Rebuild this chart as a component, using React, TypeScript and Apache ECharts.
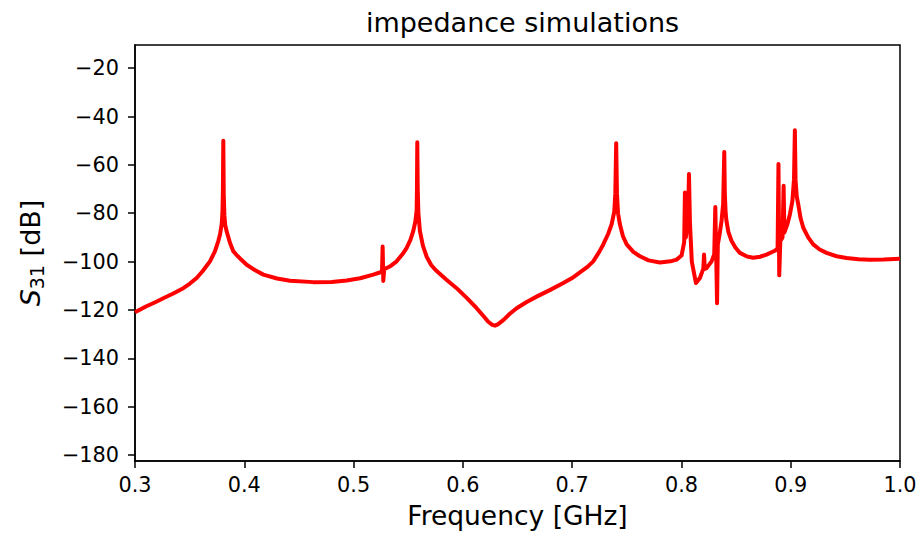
import React, { useEffect, useRef } from "react";
import * as echarts from "echarts";

// Frequency in GHz
const freq: number[] = [
  0.300, 0.310, 0.320, 0.3259, 0.335, 0.3442, 0.350, 0.3564, 0.362, 0.3686, 0.3732, 0.3762, 0.3778, 0.3793, 0.3800, 0.3804, 0.3808, 0.3812, 0.3818, 0.3826,
  0.3838, 0.3869, 0.3899, 0.3930, 0.3961, 0.4022, 0.4100, 0.4174, 0.4300, 0.4418, 0.4631, 0.4800, 0.4937, 0.5060, 0.5180, 0.5260,
  0.5266, 0.5272, 0.5280, 0.5340, 0.5394, 0.5450, 0.5486, 0.5520, 0.5546, 0.5565, 0.5577, 0.5580, 0.5583, 0.5587, 0.5593, 0.5607,
  0.5635, 0.5669, 0.5710, 0.5750, 0.5850, 0.5943, 0.6040, 0.6126, 0.6190, 0.6232, 0.6270, 0.6294, 0.6320, 0.6370, 0.6430, 0.6492,
  0.6580, 0.6675, 0.6800, 0.6919, 0.7000, 0.7071, 0.7140, 0.7193, 0.7245, 0.7285, 0.7330, 0.7361, 0.7385, 0.7395, 0.7403, 0.7410,
  0.7420, 0.7437, 0.7465, 0.7499, 0.7560, 0.7620, 0.7700, 0.7803, 0.7900, 0.7956, 0.8001, 0.8025, 0.8032, 0.8040, 0.8060, 0.8069,
  0.8078, 0.8095, 0.8133, 0.8169, 0.8200, 0.8207, 0.8214, 0.8230, 0.8276, 0.8300, 0.8310, 0.8318, 0.8326, 0.8333, 0.8350, 0.8367,
  0.8382, 0.8392, 0.8397, 0.8405, 0.8412, 0.8430, 0.8459, 0.8495, 0.8535, 0.8600, 0.8657, 0.8720, 0.8779, 0.8860, 0.8880, 0.8888,
  0.8895, 0.8905, 0.8925, 0.8935, 0.8942, 0.8970, 0.8993, 0.9015, 0.9030, 0.9038, 0.9044, 0.9055, 0.9069, 0.9090, 0.9115, 0.9160,
  0.9206, 0.9265, 0.9328, 0.9420, 0.9511, 0.9620, 0.9725, 0.9850, 1.0000,
];

// S31 in dB
const s31: number[] = [
  -121.0, -118.6, -116.5, -115.2, -113.2, -111.0, -109.2, -106.8, -103.9, -99.9, -95.7, -91.5, -88.8, -84.6, -80.0, -72.0, -50.0, -72.0, -81.0, -85.0,
  -87.4, -92.2, -95.7, -97.3, -98.7, -101.3, -103.6, -105.4, -107.0, -107.9, -108.5, -108.4, -107.8, -106.9, -105.4, -104.2,
  -93.8, -108.0, -103.2, -101.8, -99.9, -96.8, -94.3, -91.0, -87.4, -83.5, -79.0, -70.0, -50.6, -70.0, -80.0, -87.4,
  -93.5, -98.0, -101.4, -103.5, -107.5, -111.0, -115.2, -119.3, -122.6, -124.9, -126.2, -126.5, -126.0, -124.2, -121.6, -119.3,
  -116.8, -114.5, -111.7, -108.9, -106.8, -104.5, -102.2, -99.9, -96.2, -92.9, -88.5, -84.6, -79.5, -72.0, -51.0, -72.0,
  -80.0, -84.6, -89.5, -92.9, -96.0, -97.8, -99.5, -100.4, -99.9, -99.2, -97.5, -92.0, -71.4, -90.0, -84.0, -63.8,
  -84.0, -100.0, -108.9, -106.8, -103.0, -97.1, -103.0, -102.7, -99.9, -97.0, -77.4, -97.0, -117.2, -93.0, -88.5, -83.2,
  -76.0, -54.7, -72.0, -80.0, -83.2, -87.8, -91.5, -94.3, -96.4, -97.9, -98.4, -98.0, -97.1, -95.4, -94.5, -59.6,
  -105.7, -91.5, -90.0, -68.6, -88.0, -84.5, -80.4, -75.0, -66.0, -45.7, -66.0, -73.0, -76.3, -82.0, -86.0, -90.0,
  -92.9, -95.0, -96.4, -97.8, -98.5, -99.0, -99.2, -99.1, -98.8,
];

const xTicks: number[] = [0.3, 0.4, 0.5, 0.6, 0.7, 0.8, 0.9, 1.0];
const yTicks: number[] = [-180, -160, -140, -120, -100, -80, -60, -40, -20];

const FONT = "'DejaVu Sans', sans-serif";

export default function App() {
  const ref = useRef<HTMLDivElement>(null);
  useEffect(() => {
    if (!ref.current) return;
    const chart = echarts.init(ref.current, null, { renderer: "svg" });
    const data = freq.map((f, i) => [f, s31[i]]);
    chart.setOption({
      animation: false,
      backgroundColor: "#ffffff",
      title: {
        text: "impedance simulations",
        left: 517.5,
        textAlign: "center",
        top: 4,
        textStyle: { fontFamily: FONT, fontSize: 27, fontWeight: "normal", color: "#000" },
      },
      grid: {
        left: 135,
        right: 20,
        top: 45,
        bottom: 72,
        show: true,
        borderColor: "#000",
        borderWidth: 1.5,
        backgroundColor: "transparent",
        containLabel: false,
        outerBoundsMode: "none",
      },
      xAxis: {
        type: "value",
        min: 0.3,
        max: 1.0,
        name: "Frequency [GHz]",
        nameLocation: "middle",
        nameGap: 41,
        nameTextStyle: { fontFamily: FONT, fontSize: 26.5, color: "#000" },
        axisLine: { show: true, onZero: false, lineStyle: { color: "#000", width: 1.5 } },
        axisTick: { show: true, inside: false, length: 7, lineStyle: { color: "#000", width: 1.5 }, customValues: xTicks },
        axisLabel: {
          show: true,
          margin: 13,
          fontFamily: FONT,
          fontSize: 20.8,
          color: "#000",
          customValues: xTicks,
          formatter: (v: number) => v.toFixed(1),
        },
        splitLine: { show: false },
      },
      yAxis: {
        type: "value",
        min: -182.5,
        max: -10.4,
        name: "{s|S}{sub|31}{t| [dB]}",
        nameLocation: "middle",
        nameRotate: 90,
        nameGap: 89,
        nameTextStyle: {
          fontFamily: FONT,
          color: "#000",
          rich: {
            s: { fontFamily: FONT, fontSize: 27, fontStyle: "italic", lineHeight: 31, color: "#000" },
            sub: { fontFamily: FONT, fontSize: 19, lineHeight: 17, verticalAlign: "bottom", color: "#000" },
            t: { fontFamily: FONT, fontSize: 27, lineHeight: 31, color: "#000" },
          },
        },
        axisLine: { show: true, onZero: false, lineStyle: { color: "#000", width: 1.5 } },
        axisTick: { show: true, inside: false, length: 7, lineStyle: { color: "#000", width: 1.5 }, customValues: yTicks },
        axisLabel: {
          show: true,
          margin: 16,
          fontFamily: FONT,
          fontSize: 20.8,
          color: "#000",
          customValues: yTicks,
          formatter: (v: number) => (v < 0 ? "\u2212" + Math.abs(v) : String(v)),
        },
        splitLine: { show: false },
      },
      series: [
        {
          type: "line",
          data,
          showSymbol: false,
          symbol: "none",
          clip: true,
          lineStyle: { color: "#ff0000", width: 4, join: "round", cap: "butt" },
        },
      ],
    });
    return () => chart.dispose();
  }, []);
  return <div ref={ref} style={{ width: 920, height: 533, position: "absolute", left: 0, top: 0 }} />;
}
